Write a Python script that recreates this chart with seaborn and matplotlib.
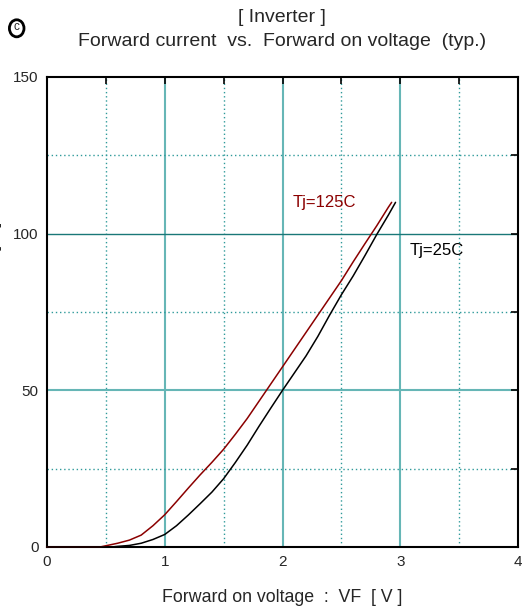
import numpy as np
import pandas as pd
import matplotlib
matplotlib.use('Agg')
import matplotlib.pyplot as plt
import matplotlib.ticker as ticker
from matplotlib.patches import Circle
import seaborn as sns

# Tj = 125C curve
vf_125 = [0.0, 0.45, 0.5, 0.6, 0.7, 0.8, 0.9, 1.0, 1.1, 1.2, 1.3, 1.4, 1.5, 1.6, 1.7, 1.8, 1.9,
          2.0, 2.1, 2.2, 2.3, 2.4, 2.5, 2.6, 2.7, 2.8, 2.9, 2.927]
if_125 = [0.0, 0.0, 0.4, 1.2, 2.2, 3.8, 6.8, 10.3, 14.5, 18.8, 23.0, 27.0, 31.2, 36.0, 41.0, 46.5, 52.0,
          57.5, 63.0, 68.5, 74.0, 79.5, 85.0, 91.0, 96.8, 102.5, 108.5, 110.0]
# Tj = 25C curve
vf_25 = [0.0, 0.55, 0.6, 0.7, 0.8, 0.9, 1.0, 1.1, 1.2, 1.3, 1.4, 1.5, 1.6, 1.7, 1.8, 1.9,
         2.0, 2.1, 2.2, 2.3, 2.4, 2.5, 2.6, 2.7, 2.8, 2.9, 2.96]
if_25 = [0.0, 0.0, 0.2, 0.5, 1.2, 2.4, 4.0, 6.8, 10.2, 13.8, 17.5, 21.8, 27.0, 32.5, 38.5, 44.3,
         50.0, 55.5, 61.0, 67.2, 74.0, 80.5, 86.5, 93.0, 99.7, 106.0, 110.0]

xticks = [0, 1, 2, 3, 4]
yticks = [0, 50, 100, 150]

sns.set_style('white')
plt.rcParams['font.family'] = ['Liberation Sans', 'DejaVu Sans']
font = 11

df = pd.concat([
    pd.DataFrame({'VF': vf_125, 'IF': if_125, 'Tj': 'Tj=125C'}),
    pd.DataFrame({'VF': vf_25, 'IF': if_25, 'Tj': 'Tj=25C'}),
])

fig = plt.figure(figsize=(5.23, 6.10), dpi=100)
ax = fig.add_axes([47/523, 1-547/610, 471/523, 470/610])

teal = '#66b6b6'
# grid: solid at majors, dotted at minors
for x in [1, 2, 3]:
    ax.axvline(x, color=teal, lw=1.5, zorder=0)
for x in [0.5, 1.5, 2.5, 3.5]:
    ax.axvline(x, color='#2f9a9a', lw=1.0, ls=(0, (1, 2)), zorder=0)
ax.axhline(50, color=teal, lw=1.5, zorder=0)
ax.axhline(100, color='#1a7878', lw=1.0, zorder=0)
for y in [25, 75, 125]:
    ax.axhline(y, color='#2f9a9a', lw=1.0, ls=(0, (1, 2)), zorder=0)

sns.lineplot(data=df, x='VF', y='IF', hue='Tj', palette={'Tj=125C': '#8b0000', 'Tj=25C': 'black'},
             lw=1.1, legend=False, ax=ax, estimator=None, sort=False, zorder=5)
for ln in ax.get_lines()[-2:]:
    ln.set_clip_on(False)

ax.set_xlim(0, 4); ax.set_ylim(0, 150)
ax.xaxis.set_major_locator(ticker.FixedLocator(xticks))
ax.yaxis.set_major_locator(ticker.FixedLocator(yticks))
ax.xaxis.set_minor_locator(ticker.MultipleLocator(0.5))
ax.yaxis.set_minor_locator(ticker.MultipleLocator(25))
ax.tick_params(which='both', direction='in', length=5, width=1.2, top=True, right=True, color='black')
ax.tick_params(which='major', labelsize=font, pad=6)
plt.setp(ax.spines.values(), linewidth=1.5, color='black')
ax.set_xlabel('Forward on voltage  :  VF  [ V ]', fontsize=12.8, labelpad=14)
ax.set_ylabel('')

ax.text(2.09, 110, 'Tj=125C', color='#8b0000', fontsize=12, va='center')
ax.text(3.08, 94.5, 'Tj=25C', color='black', fontsize=12, va='center')

fig.text(0.54, 1-17/610, '[ Inverter ]', ha='center', va='center', fontsize=14)
fig.text(0.54, 1-42/610, 'Forward current  vs.  Forward on voltage  (typ.)', ha='center', va='center', fontsize=14)
# copyright mark: circle with a small c
fig.patches.append(Circle((16.7/523, 1-28.3/610), 7.3/523, transform=fig.transFigure,
                          fill=False, ec='black', lw=2.0))
fig.text(16.9/523, 1-27.5/610, 'c', ha='center', va='center', fontsize=8.5)
# y label, almost entirely outside the picture
fig.text(2.5/523, 1-222/610, 'Forward current  :  IF  [ A ]', rotation=90, ha='right', va='top', fontsize=12.5)

plt.savefig('out.png', dpi=100)
